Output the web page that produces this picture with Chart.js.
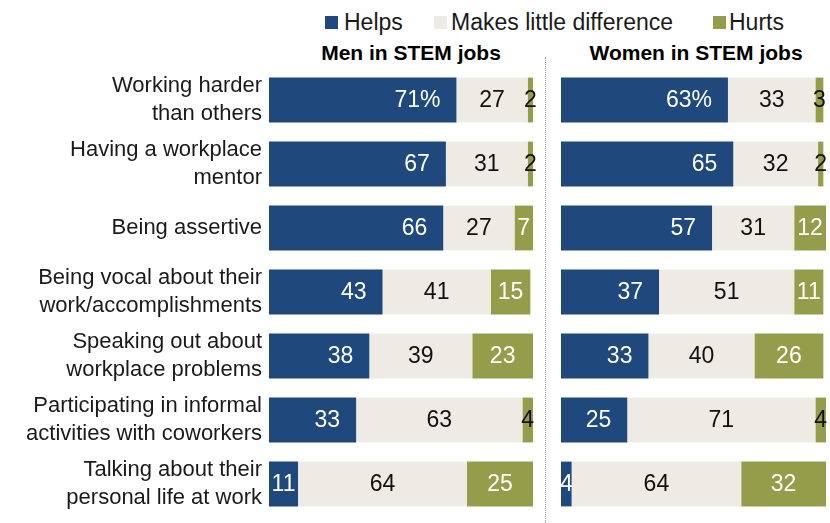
<!DOCTYPE html>
<html>
<head>
<meta charset="utf-8">
<script src="https://cdn.jsdelivr.net/npm/chart.js@4.4.1/dist/chart.umd.min.js"></script>
<style>
  html, body { margin: 0; padding: 0; background: #fff; }
  body { width: 830px; height: 523px; position: relative; overflow: hidden;
         font-family: "Liberation Sans", Arial, sans-serif; color: #1a1a1a; }
  .abs { position: absolute; white-space: nowrap; }
  .leg { font-size: 23px; line-height: 22px; top: 11px; }
  .sq { position: absolute; width: 13px; height: 13px; top: 16px; }
  .ttl { font-size: 21px; line-height: 21px; font-weight: bold; top: 42px; color: #000; transform: translateX(-50%); }
  #sep { position: absolute; left: 545px; top: 57px; height: 466px; width: 0; border-left: 1px dotted #9a9a9a; }
  canvas { position: absolute; }
</style>
</head>
<body>
<div class="sq" style="left:325px;background:#1f497d"></div>
<div class="abs leg" style="left:344px">Helps</div>
<div class="sq" style="left:434px;background:#edebe4"></div>
<div class="abs leg" style="left:451px">Makes little difference</div>
<div class="sq" style="left:713px;background:#969d4a"></div>
<div class="abs leg" style="left:729px">Hurts</div>

<div class="abs ttl" style="left:411px">Men in STEM jobs</div>
<div class="abs ttl" style="left:696px">Women in STEM jobs</div>
<div id="sep"></div>

<canvas id="men" width="543" height="448" style="left:0;top:68px;width:543px;height:448px"></canvas>
<canvas id="women" width="279" height="448" style="left:551px;top:68px;width:279px;height:448px"></canvas>

<script>
const categories = [
  ["Working harder", "than others"],
  ["Having a workplace", "mentor"],
  ["Being assertive"],
  ["Being vocal about their", "work/accomplishments"],
  ["Speaking out about", "workplace problems"],
  ["Participating in informal", "activities with coworkers"],
  ["Talking about their", "personal life at work"]
];
const seriesNames = ["Helps", "Makes little difference", "Hurts"];
const menHelps   = [71, 67, 66, 43, 38, 33, 11];
const menLittle  = [27, 31, 27, 41, 39, 63, 64];
const menHurts   = [2, 2, 7, 15, 23, 4, 25];
const womenHelps  = [63, 65, 57, 37, 33, 25, 4];
const womenLittle = [33, 32, 31, 51, 40, 71, 64];
const womenHurts  = [3, 2, 12, 11, 26, 4, 32];

const COLORS = ["#1f497d", "#edebe4", "#969d4a"];
const FONT = '"Liberation Sans", Arial, sans-serif';

const valueLabels = {
  id: 'valueLabels',
  afterDatasetsDraw(chart) {
    const ctx = chart.ctx;
    ctx.save();
    ctx.font = '23px ' + FONT;
    ctx.textBaseline = 'middle';
    ctx.textAlign = 'center';
    chart.data.datasets.forEach((ds, di) => {
      const meta = chart.getDatasetMeta(di);
      meta.data.forEach((bar, i) => {
        const v = ds.data[i];
        const txt = (i === 0 && di === 0) ? v + '%' : String(v);
        const w = ctx.measureText(txt).width;
        const left = Math.min(bar.x, bar.base), right = Math.max(bar.x, bar.base);
        let cx = (left + right) / 2;
        if (di === 0) cx = Math.max(cx, right - 16 - w / 2);
        if (di === 1) ctx.fillStyle = '#111';
        else if (di === 2 && v < 7) ctx.fillStyle = '#111';
        else ctx.fillStyle = '#fff';
        ctx.fillText(txt, cx, bar.y + 1);
      });
    });
    ctx.restore();
  }
};

function makeChart(id, helps, little, hurts, showY, padding) {
  const values = [helps, little, hurts];
  return new Chart(document.getElementById(id), {
    type: 'bar',
    data: {
      labels: categories,
      datasets: seriesNames.map((name, k) => ({
        label: name,
        data: values[k],
        backgroundColor: COLORS[k],
        borderWidth: 0,
        barPercentage: 0.7,
        categoryPercentage: 1.0
      }))
    },
    options: {
      indexAxis: 'y',
      responsive: false,
      animation: false,
      devicePixelRatio: 1,
      layout: { padding: padding },
      plugins: { legend: { display: false }, tooltip: { enabled: false }, title: { display: false } },
      scales: {
        x: { stacked: true, min: 0, max: 100, display: false },
        y: {
          stacked: true,
          display: showY,
          grid: { display: false, drawTicks: false },
          border: { display: false },
          ticks: {
            padding: 7,
            color: '#1a1a1a',
            font: { family: FONT, size: 22, lineHeight: 1.25 }
          },
          afterFit(scale) {
            if (showY) scale.width = 269;
            scale.paddingTop = 0;
            scale.paddingBottom = 0;
          }
        }
      }
    },
    plugins: [valueLabels]
  });
}

makeChart('men', menHelps, menLittle, menHurts, true, { left: 0, right: 10, top: 0, bottom: 0 });
makeChart('women', womenHelps, womenLittle, womenHurts, false, { left: 10, right: 4, top: 0, bottom: 0 });
</script>
</body>
</html>
